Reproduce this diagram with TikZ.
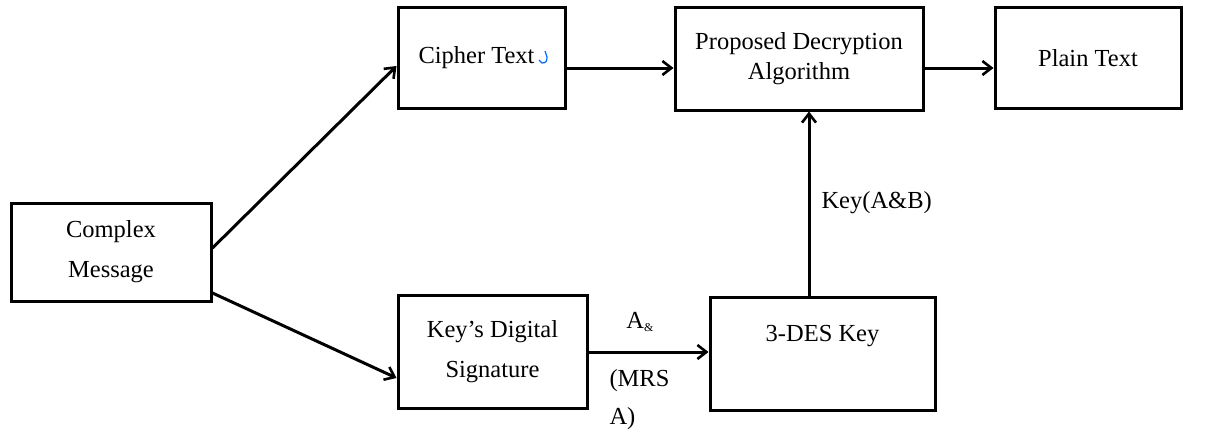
\documentclass[tikz,border=0pt]{standalone}
\usepackage{fontspec}
\setmainfont{Liberation Serif}
\usetikzlibrary{arrows.meta}
\begin{document}
\begin{tikzpicture}[x=1pt,y=-1pt,
  box/.style={draw,line width=3pt,inner sep=0pt,align=center,font=\fontsize{24.5}{30}\selectfont},
  tall/.style={font=\fontsize{24.5}{40}\selectfont},
  conn/.style={line width=3pt,-{Straight Barb[length=9pt,width=14pt,line width=2.6pt]}},
  lbl/.style={font=\fontsize{24.5}{38}\selectfont}]
\useasboundingbox (0,0) rectangle (1222,436);
\node[box,tall,minimum width=200pt,minimum height=98pt] (cm) at (111,252) {Complex\\Message};
\node[box,minimum width=167pt,minimum height=100pt] (ct) at (481.5,58) {Cipher Text\hspace{10pt}};
\node[box,minimum width=248pt,minimum height=102pt] (pd) at (799,59) {Proposed Decryption\\Algorithm};
\node[box,minimum width=186pt,minimum height=100pt] (pt) at (1088,58) {Plain Text};
\node[box,tall,minimum width=189pt,minimum height=113pt] (ks) at (492.5,351.5) {Key’s Digital\\Signature};
\node[box,minimum width=225pt,minimum height=113pt,text depth=40pt] (dk) at (822.5,353.5) {3-DES Key};
\draw[conn] (cm.east |- 0,248) -- (ct.west |- 0,66);
\draw[conn] (cm.east |- 0,293) -- (ks.west |- 0,378);
\draw[conn] (ct.east |- 0,68) -- (pd.west |- 0,68);
\draw[conn] (pd.east |- 0,68) -- (pt.west |- 0,68);
\draw[conn] (ks.east |- 0,352) -- (dk.west |- 0,352);
\coordinate (up) at (809,0);
\draw[conn] (dk.north -| up) -- (pd.south -| up);
\node[lbl,anchor=west] (kab) at (818,203) {Key(A\&B)};
\node[lbl] (ad) at (640,322) {A\raisebox{-0.3ex}{\fontsize{12}{12}\selectfont \&}};
\node[lbl,anchor=west,align=left] (mrs) at (606,400) {(MRS\\A)};
\coordinate (hk) at (548,57);
\draw[blue!60!cyan,line width=1.2pt] (hk) ++(-3,-6) -- ++(2,6) .. controls ++(0,4) and ++(4,0) .. ++(-5,6) -- ++(-3,-3);
\end{tikzpicture}
\end{document}
